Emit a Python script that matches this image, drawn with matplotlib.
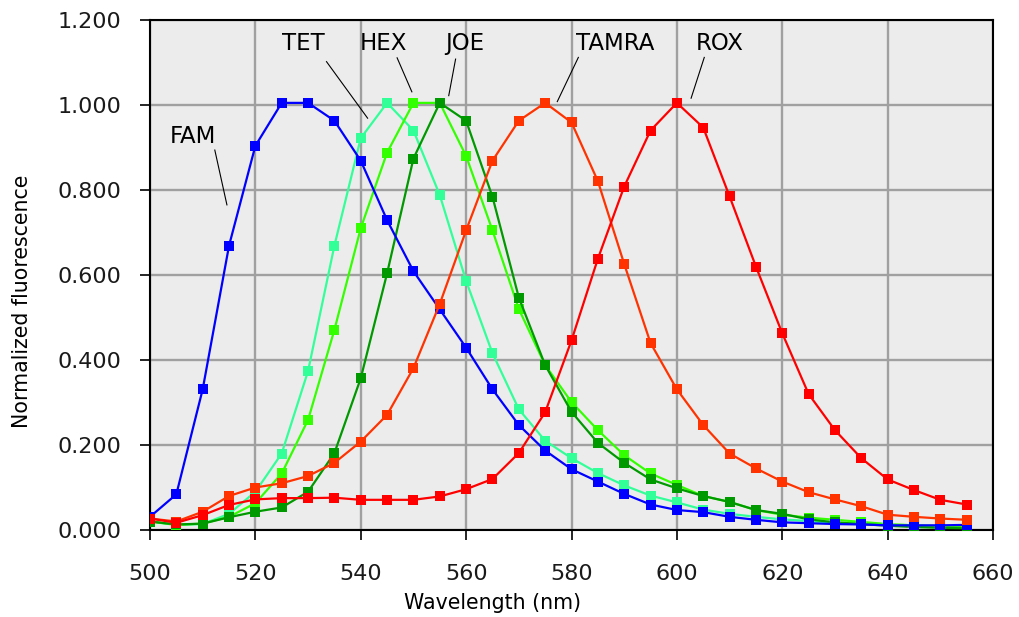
import matplotlib
matplotlib.use("Agg")
import matplotlib.pyplot as plt
from matplotlib.ticker import FormatStrFormatter

# ---------------- data ----------------
wavelength = list(range(500, 656, 5))

fam = [0.031, 0.084, 0.331, 0.669, 0.904, 1.005, 1.005, 0.963, 0.869, 0.729,
       0.609, 0.519, 0.429, 0.331, 0.247, 0.187, 0.143, 0.114, 0.085, 0.060,
       0.047, 0.042, 0.031, 0.024, 0.018, 0.016, 0.014, 0.013, 0.011, 0.011,
       0.011, 0.012]
tet = [0.020, 0.012, 0.014, 0.038, 0.090, 0.180, 0.374, 0.669, 0.922, 1.005,
       0.940, 0.788, 0.586, 0.416, 0.284, 0.210, 0.169, 0.134, 0.105, 0.081,
       0.065, 0.048, 0.038, 0.031, 0.025, 0.021, 0.017, 0.015, 0.012, 0.010,
       0.009, 0.008]
hex_ = [0.020, 0.012, 0.015, 0.031, 0.063, 0.133, 0.259, 0.471, 0.710, 0.888,
        1.005, 1.005, 0.880, 0.705, 0.520, 0.388, 0.301, 0.235, 0.176, 0.133,
        0.106, 0.080, 0.066, 0.047, 0.036, 0.029, 0.024, 0.019, 0.014, 0.011,
        0.009, 0.008]
joe = [0.020, 0.013, 0.015, 0.030, 0.043, 0.053, 0.090, 0.181, 0.357, 0.604,
       0.874, 1.005, 0.963, 0.784, 0.547, 0.388, 0.278, 0.205, 0.158, 0.119,
       0.098, 0.080, 0.066, 0.047, 0.038, 0.025, 0.018, 0.014, 0.010, 0.007,
       0.005, 0.004]
tamra = [0.027, 0.020, 0.043, 0.080, 0.100, 0.110, 0.127, 0.158, 0.208, 0.271,
         0.381, 0.532, 0.705, 0.869, 0.963, 1.005, 0.959, 0.821, 0.626, 0.440,
         0.331, 0.247, 0.180, 0.145, 0.114, 0.089, 0.072, 0.056, 0.036, 0.031,
         0.027, 0.024]
rox = [0.027, 0.017, 0.035, 0.059, 0.072, 0.075, 0.075, 0.076, 0.071, 0.071,
       0.071, 0.079, 0.096, 0.120, 0.181, 0.277, 0.446, 0.638, 0.808, 0.940,
       1.005, 0.947, 0.785, 0.620, 0.463, 0.320, 0.235, 0.169, 0.119, 0.094,
       0.071, 0.060]

dye_names = ["TET", "HEX", "JOE", "FAM", "TAMRA", "ROX"]
dye_values = [tet, hex_, joe, fam, tamra, rox]

x_ticks = [500, 520, 540, 560, 580, 600, 620, 640, 660]
y_ticks = [0.0, 0.2, 0.4, 0.6, 0.8, 1.0, 1.2]

# ---------------- style ----------------
colors = {"FAM": "#0000FF", "TET": "#33FF99", "HEX": "#33FF00",
          "JOE": "#009900", "TAMRA": "#FF3300", "ROX": "#FF0000"}

# label placement (text position, leader line start, leader line end) in data units
label_layout = {
    "FAM":   ((508.2, 0.910), (512.3, 0.894), (514.6, 0.765)),
    "TET":   ((529.2, 1.129), (533.5, 1.102), (541.3, 0.969)),
    "HEX":   ((544.4, 1.129), (546.9, 1.111), (549.7, 1.031)),
    "JOE":   ((559.8, 1.129), (558.0, 1.108), (556.7, 1.022)),
    "TAMRA": ((588.3, 1.129), (581.3, 1.112), (577.3, 1.008)),
    "ROX":   ((608.2, 1.129), (605.2, 1.112), (602.7, 1.016)),
}

plt.rcParams['font.family'] = ['DejaVu Sans']

fig = plt.figure(figsize=(10.2, 6.17), dpi=100)
ax = fig.add_axes([150 / 1020, 1 - 530 / 617, 843 / 1020, 510 / 617])
ax.set_facecolor("#ECECEC")

for name, vals in zip(dye_names, dye_values):
    ax.plot(wavelength, vals, color=colors[name], lw=1.6, marker="s",
            markersize=7.0, markeredgewidth=0, zorder=3)

for name, (txt, p0, p1) in label_layout.items():
    ax.text(txt[0], txt[1], name, ha="center", va="baseline", fontsize=16.5,
            color="black", zorder=5)
    ax.plot([p0[0], p1[0]], [p0[1], p1[1]], color="black", lw=0.8, zorder=5)

ax.set_xlim(500, 660)
ax.set_ylim(0, 1.2)
ax.set_xticks(x_ticks)
ax.set_yticks(y_ticks)
ax.yaxis.set_major_formatter(FormatStrFormatter("%.3f"))
ax.grid(True, color="#A0A0A0", lw=1.7, zorder=0)
ax.set_axisbelow(True)

for sp in ax.spines.values():
    sp.set_color("black")
    sp.set_linewidth(1.5)

ax.tick_params(axis="both", direction="out", length=7.5, width=1.2,
               labelsize=16, colors="black", labelcolor="#1A1A1A")
ax.tick_params(axis="y", pad=13)
ax.tick_params(axis="x", pad=17)

ax.set_xlabel("Wavelength (nm)", fontsize=14.8)
ax.xaxis.label.set_va("baseline")
ax.xaxis.set_label_coords((492.5 - 150) / 843, (530 - 609) / 510)

ax.set_ylabel("Normalized fluorescence", fontsize=14.8)
ax.yaxis.label.set_rotation_mode("default")
ax.yaxis.label.set_va("center")
ax.yaxis.label.set_ha("center")
ax.yaxis.set_label_coords((22 - 150) / 843, (530 - 301) / 510)

fig.savefig("out.png", dpi=100)
